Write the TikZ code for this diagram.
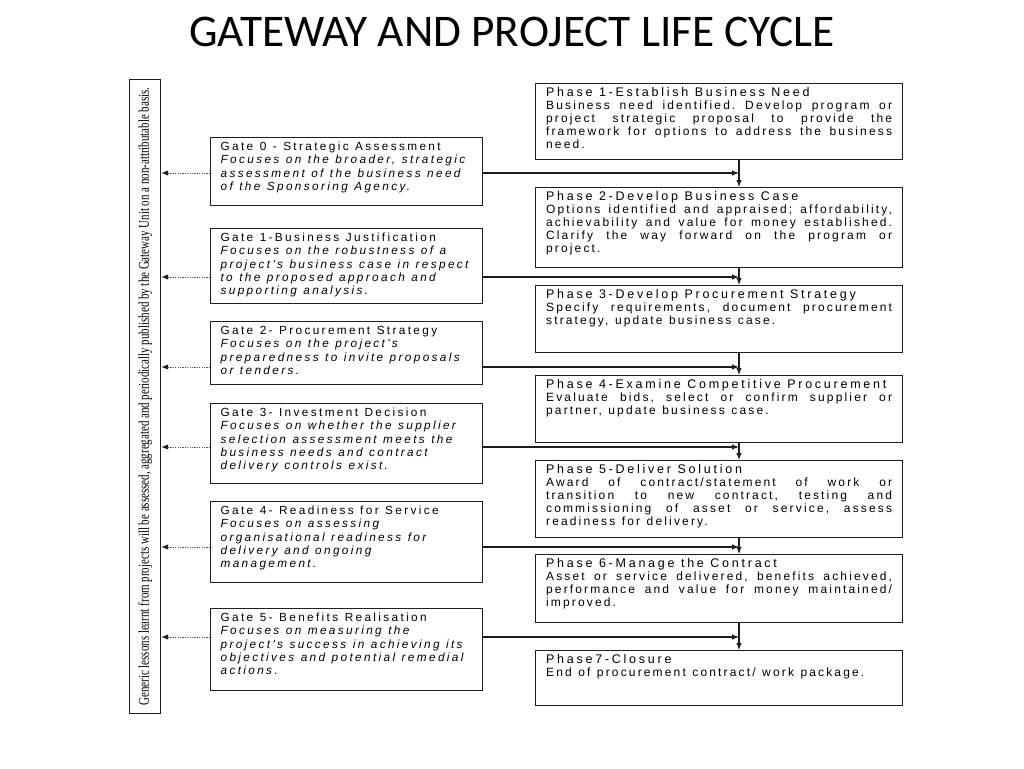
\documentclass[tikz,border=0pt]{standalone}
\usepackage{fontspec}
\setmainfont{Liberation Sans}
\newfontfamily\gatefont[LetterSpace=20]{Liberation Sans}
\newfontfamily\headfont[LetterSpace=22]{Liberation Sans}
\newfontfamily\bodyfont[LetterSpace=18]{Liberation Sans}
\newfontfamily\barfont[FakeStretch=0.73]{Liberation Serif}
\newfontfamily\titlefont{Carlito}
\usetikzlibrary{arrows.meta, positioning, calc}
\definecolor{cline}{HTML}{1E1E1E}
\definecolor{cdots}{HTML}{555555}
% \jl: justified line, the gaps between words fill the line
% \ws: text with wider gaps between words
\ExplSyntaxOn
\tl_new:N \l_jline_tl
\tl_new:N \l_wtext_tl
\NewDocumentCommand{\jl}{m}{
  \tl_set:Nn \l_jline_tl {#1}
  \tl_replace_all:Nnn \l_jline_tl {~} {\hfill}
  \makebox[346pt][s]{\l_jline_tl}
}
\NewDocumentCommand{\ws}{m}{
  \tl_set:Nn \l_wtext_tl {#1}
  \tl_replace_all:Nnn \l_wtext_tl {~} {\hspace{6.5pt}}
  \l_wtext_tl
}
\ExplSyntaxOff
\newcommand{\phead}[1]{{\headfont\fontsize{12.5}{13}\selectfont\ws{#1}}}
\tikzset{
  every picture/.style={line width=1.2pt},
  box/.style={draw=cline, anchor=north west, inner ysep=4pt, text height=9pt},
  gate/.style={box, inner xsep=10pt, text width=252pt, text depth={#1pt-17pt}, font=\gatefont\fontsize{11.8}{13.3}\selectfont},
  phase/.style={box, inner xsep=10.5pt, text width=346pt, text depth={#1pt-17pt}, font=\bodyfont\fontsize{12}{13}\selectfont},
  arrow/.style={-{Latex[length=7pt, width=5.5pt]}, draw=cline, line width=1.1pt},
  dotarrow/.style={-{Latex[length=7pt, width=5.5pt, color=cline]}, draw=cdots, line width=0.9pt, dash pattern=on 1.2pt off 1.2pt},
}

\begin{document}
\begin{tikzpicture}[x=1pt, y=-1pt]
  \useasboundingbox (0,0) rectangle (1024,768);
  \node[font=\titlefont\fontsize{45.3}{50}\selectfont, anchor=base] (title) at (512,46) {GATEWAY AND PROJECT LIFE CYCLE};
  % lessons bar
  \node[draw=cline, minimum width=31pt, minimum height=634pt, inner sep=0pt, anchor=north west] (bar) at (129,79)
    {\rotatebox{90}{\barfont\fontsize{15}{17}\selectfont Generic lessons learnt from projects will be assessed, aggregated and periodically published by the Gateway Unit on a non-attributable basis.}};
  % gates
  \node[gate=68] (g0) at (210,137) {\ws{Gate 0 - Strategic Assessment\\\itshape Focuses on the broader, strategic\\assessment of the business need\\of the Sponsoring Agency.}};
  \node[gate=75] (g1) at (210,228) {\ws{Gate 1-Business Justification\\\itshape Focuses on the robustness of a\\project's business case in respect\\to the proposed approach and\\supporting analysis.}};
  \node[gate=63] (g2) at (210,321) {\ws{Gate 2- Procurement Strategy\\\itshape Focuses on the project's\\preparedness to invite proposals\\or tenders.}};
  \node[gate=80] (g3) at (210,403) {\ws{Gate 3- Investment Decision\\\itshape Focuses on whether the supplier\\selection assessment meets the\\business needs and contract\\delivery controls exist.}};
  \node[gate=81] (g4) at (210,501) {\ws{Gate 4- Readiness for Service\\\itshape Focuses on assessing\\organisational readiness for\\delivery and ongoing\\management.}};
  \node[gate=82] (g5) at (210,608) {\ws{Gate 5- Benefits Realisation\\\itshape Focuses on measuring the\\project's success in achieving its\\objectives and potential remedial\\actions.}};
  % phases
  \node[phase=76] (p1) at (535,83) {\phead{Phase 1-Establish Business Need}\\\jl{Business need identified. Develop program or}\\\jl{project strategic proposal to provide the}\\\jl{framework for options to address the business}\\need.};
  \node[phase=80] (p2) at (535,187) {\phead{Phase 2-Develop Business Case}\\\jl{Options identified and appraised; affordability,}\\\jl{achievability and value for money established.}\\\jl{Clarify the way forward on the program or}\\project.};
  \node[phase=67] (p3) at (535,285) {\phead{Phase 3-Develop Procurement Strategy}\\\jl{Specify requirements, document procurement}\\\ws{strategy, update business case.}};
  \node[phase=67] (p4) at (535,375) {\phead{Phase 4-Examine Competitive Procurement}\\\jl{Evaluate bids, select or confirm supplier or}\\\ws{partner, update business case.}};
  \node[phase=77] (p5) at (535,460) {\phead{Phase 5-Deliver Solution}\\\jl{Award of contract/statement of work or}\\\jl{transition to new contract, testing and}\\\jl{commissioning of asset or service, assess}\\\ws{readiness for delivery.}};
  \node[phase=68] (p6) at (535,554) {\phead{Phase 6-Manage the Contract}\\\jl{Asset or service delivered, benefits achieved,}\\\jl{performance and value for money maintained/}\\improved.};
  \node[phase=55] (p7) at (535,650) {\phead{Phase7-Closure}\\\ws{End of procurement contract/ work package.}};
  % junctions on the phase line
  \coordinate (j0) at (739,173);
  \coordinate (j1) at (739,277);
  \coordinate (j2) at (739,367);
  \coordinate (j3) at (739,447);
  \coordinate (j4) at (739,547);
  \coordinate (j5) at (739,637);
  \foreach \a/\b in {p1/p2, p2/p3, p3/p4, p4/p5, p5/p6, p6/p7}
    \draw[arrow] (\a.south -| j0) -- (\b.north -| j0);
  \foreach \g/\j in {g0/j0, g1/j1, g2/j2, g3/j3, g4/j4, g5/j5} {
    \draw[arrow] (\g.east |- \j) -- (\j);
    \draw[dotarrow] (\g.west |- \j) -- (bar.east |- \j);
  }
\end{tikzpicture}
\end{document}
